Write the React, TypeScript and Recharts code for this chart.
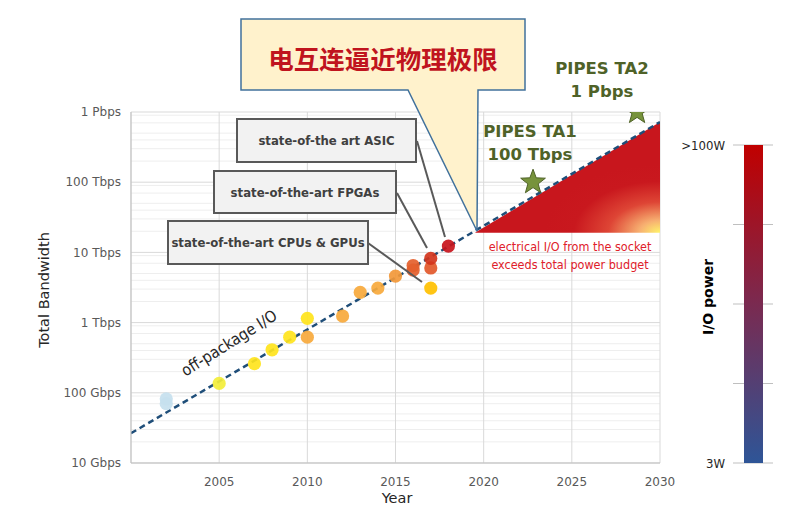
import {
  ComposedChart, BarChart, Bar, Line, Area, Scatter, XAxis, YAxis,
  CartesianGrid,
} from 'recharts';

// axis ticks
const yearTicks = [2005, 2010, 2015, 2020, 2025, 2030];
const bwTicks = [1e10, 1e11, 1e12, 1e13, 1e14, 1e15];
const bwTickLabels = ['10 Gbps', '100 Gbps', '1 Tbps', '10 Tbps', '100 Tbps', '1 Pbps'];

// measured chips
const chipYears = [2002, 2002, 2005, 2007, 2008, 2009, 2010, 2010, 2012, 2013, 2014, 2015, 2016, 2016, 2017, 2017, 2017, 2018];
const chipBw = [7.0e10, 8.2e10, 1.36e11, 2.6e11, 4.1e11, 6.2e11, 1.15e12, 6.2e11, 1.24e12, 2.7e12, 3.1e12, 4.6e12, 6.5e12, 5.6e12, 3.1e12, 6.0e12, 8.2e12, 1.23e13];
const chipGen = [0, 0, 1, 2, 2, 2, 2, 3, 3, 3, 3, 4, 5, 5, 6, 7, 8, 9];

// off-package I/O trend and power-wall region
const trendYears = [2000, 2030];
const trendBw = [2.65e10, 7.2e14];
const wallYears = [2019.5, 2030];
const wallLow = [1.9e13, 1.9e13];
const wallHigh = [1.9e13, 7.2e14];

// PIPES targets
const targetYears = [2022.8, 2028.7];
const targetBw = [1e14, 1e15];

// I/O power colour scale
const powerTicks = [0, 1, 2, 3, 4];
const powerLabels = ['3W', '', '', '', '>100W'];
const powerBar = [4];

const DOT_COLORS = ['#C5DFEE', '#F3EE3A', '#FFE41C', '#F7A93C', '#F29838', '#E4602C', '#FFC000', '#E2582A', '#D2341C', '#C8141C'];

const minorLines: number[] = [];
for (let k = 10; k < 15; k++) {
  for (let m = 2; m <= 9; m++) minorLines.push(m * Math.pow(10, k));
}

const chipData = chipYears.map((year, i) => ({ year, bw: chipBw[i], gen: chipGen[i] }));
const targetData = targetYears.map((year, i) => ({ year, bw: targetBw[i] }));
const lineData: any[] = [
  { year: trendYears[0], trend: trendBw[0] },
  { year: wallYears[0], wall: [wallLow[0], wallHigh[0]] },
  { year: wallYears[1], trend: trendBw[1], wall: [wallLow[1], wallHigh[1]] },
];
const powerData = powerBar.map((v) => ({ name: 'power', v }));

const FONT = '"DejaVu Sans", Verdana, sans-serif';
const COND = '"DejaVu Sans Condensed", "DejaVu Sans", sans-serif';

function Star(props: any) {
  const { cx, cy } = props;
  const pts: string[] = [];
  for (let i = 0; i < 10; i++) {
    const r = i % 2 === 0 ? 13 : 5.4;
    const a = -Math.PI / 2 + (i * Math.PI) / 5;
    pts.push(`${cx + r * Math.cos(a)},${cy + r * Math.sin(a)}`);
  }
  return <polygon points={pts.join(' ')} fill="#77933C" stroke="#4F6228" strokeWidth={1} />;
}

function Dot(props: any) {
  const { cx, cy, payload } = props;
  return <circle cx={cx} cy={cy} r={6.6} fill={DOT_COLORS[payload.gen]} fillOpacity={0.92} />;
}

const boxStyle: React.CSSProperties = {
  position: 'absolute',
  boxSizing: 'border-box',
  background: '#F2F2F2',
  border: '2px solid #595959',
  color: '#404040',
  fontFamily: COND,
  fontWeight: 'bold',
  fontSize: 13,
  display: 'flex',
  alignItems: 'center',
  justifyContent: 'center',
};

const greenStyle: React.CSSProperties = {
  position: 'absolute',
  color: '#4F6228',
  fontFamily: FONT,
  fontWeight: 'bold',
  fontSize: 16.5,
  textAlign: 'center',
  lineHeight: '23px',
  width: 140,
};

export default function App() {
  return (
    <div style={{ position: 'absolute', left: 0, top: 0, width: 800, height: 525, background: '#fff', overflow: 'hidden' }}>
      <ComposedChart
        width={800}
        height={525}
        data={lineData}
        margin={{ top: 112, right: 140, bottom: 32, left: 61 }}
      >
        <defs>
          <radialGradient id="hot" cx="1" cy="1" r="0.62" fx="1" fy="1">
            <stop offset="0%" stopColor="#FFF56A" />
            <stop offset="18%" stopColor="#F7B071" />
            <stop offset="45%" stopColor="#DE4535" />
            <stop offset="75%" stopColor="#C9181E" />
            <stop offset="100%" stopColor="#C8161D" />
          </radialGradient>
        </defs>
        <CartesianGrid vertical={false} horizontalValues={minorLines} stroke="#EEEEEE" />
        <CartesianGrid stroke="#D9D9D9" />
        <XAxis
          dataKey="year"
          type="number"
          domain={[2000, 2030]}
          ticks={yearTicks}
          allowDataOverflow
          tickLine={false}
          tickMargin={8}
          height={30}
          axisLine={{ stroke: '#BFBFBF' }}
          tick={{ fill: '#595959', fontSize: 12, fontFamily: FONT }}
        />
        <YAxis
          scale="log"
          domain={[1e10, 1e15]}
          ticks={bwTicks}
          allowDataOverflow
          tickLine={false}
          width={70}
          tickMargin={4}
          axisLine={{ stroke: '#BFBFBF' }}
          tickFormatter={(v: number) => bwTickLabels[bwTicks.indexOf(v)] ?? ''}
          tick={{ fill: '#595959', fontSize: 12, fontFamily: FONT }}
        />
        <Area
          dataKey="wall"
          type="linear"
          fill="url(#hot)"
          fillOpacity={1}
          stroke="none"
          isAnimationActive={false}
        />
        <Scatter data={chipData} dataKey="bw" shape={<Dot />} isAnimationActive={false} />
        <Line
          dataKey="trend"
          type="linear"
          stroke="#1F4E79"
          strokeWidth={2.5}
          strokeDasharray="6 4"
          dot={false}
          connectNulls
          isAnimationActive={false}
        />
        <Scatter data={targetData} dataKey="bw" shape={<Star />} isAnimationActive={false} />
      </ComposedChart>

      {/* axis titles */}
      <div style={{ position: 'absolute', left: 378, top: 490, width: 38, textAlign: 'center', fontFamily: FONT, fontSize: 14.5, color: '#262626' }}>Year</div>
      <div style={{ position: 'absolute', left: 44, top: 290, transform: 'translate(-50%, -50%) rotate(-90deg)', whiteSpace: 'nowrap', fontFamily: FONT, fontSize: 14.5, color: '#262626' }}>Total Bandwidth</div>

      {/* callout and connectors */}
      <svg width={800} height={525} style={{ position: 'absolute', left: 0, top: 0, pointerEvents: 'none' }}>
        <polygon
          points="241,19 525,19 525,90 478,90 477,231 408,90 241,90"
          fill="#FFF2CC"
          stroke="#41719C"
          strokeWidth={1.5}
        />
        <line x1={417} y1={141} x2={445} y2={237} stroke="#595959" strokeWidth={2} />
        <line x1={397} y1={193} x2={427} y2={248} stroke="#595959" strokeWidth={2} />
        <line x1={368} y1={243} x2={422} y2={282} stroke="#595959" strokeWidth={2} />
      </svg>
      <div style={{ position: 'absolute', left: 241, top: 38, width: 284, textAlign: 'center', fontFamily: '"Noto Sans CJK SC", sans-serif', fontWeight: 'bold', fontSize: 25.5, color: '#C0141E', lineHeight: '40px' }}>
        电互连逼近物理极限
      </div>

      <div style={{ ...boxStyle, left: 236, top: 118, width: 181, height: 45 }}>state-of-the art ASIC</div>
      <div style={{ ...boxStyle, left: 213, top: 170, width: 184, height: 44 }}>state-of-the-art FPGAs</div>
      <div style={{ ...boxStyle, left: 167, top: 220, width: 202, height: 45 }}>state-of-the-art CPUs &amp; GPUs</div>

      <div style={{ position: 'absolute', left: 229, top: 343, transform: 'translate(-50%, -50%) rotate(-32deg)', whiteSpace: 'nowrap', fontFamily: COND, fontSize: 16, color: '#262626' }}>off-package I/O</div>

      <div style={{ ...greenStyle, left: 460, top: 120 }}>PIPES TA1<br />100 Tbps</div>
      <div style={{ ...greenStyle, left: 532, top: 57 }}>PIPES TA2<br />1 Pbps</div>

      <div style={{ position: 'absolute', left: 480, top: 238, width: 180, textAlign: 'center', fontFamily: COND, fontSize: 12.5, lineHeight: '18px', color: '#E0202A' }}>
        electrical I/O from the socket<br />exceeds total power budget
      </div>

      {/* I/O power colour bar */}
      <div style={{ position: 'absolute', left: 640, top: 120 }}>
        <BarChart
          width={160}
          height={360}
          data={powerData}
          margin={{ top: 25, right: 27, bottom: 17, left: 33 }}
        >
          <defs>
            <linearGradient id="pw" x1="0" y1="0" x2="0" y2="1">
              <stop offset="0%" stopColor="#C00000" />
              <stop offset="50%" stopColor="#7A2A50" />
              <stop offset="100%" stopColor="#2E5597" />
            </linearGradient>
          </defs>
          <CartesianGrid vertical={false} stroke="#BFBFBF" />
          <XAxis dataKey="name" hide />
          <YAxis
            domain={[0, 4]}
            ticks={powerTicks}
            width={60}
            axisLine={false}
            tickLine={false}
            tickMargin={2}
            tickFormatter={(v: number) => powerLabels[v]}
            tick={{ fill: '#262626', fontSize: 13, fontFamily: COND }}
          />
          <Bar dataKey="v" fill="url(#pw)" barSize={19} isAnimationActive={false} />
        </BarChart>
      </div>
      <div style={{ position: 'absolute', left: 708, top: 297, transform: 'translate(-50%, -50%) rotate(-90deg)', whiteSpace: 'nowrap', fontFamily: FONT, fontWeight: 'bold', fontSize: 14, color: '#000' }}>I/O power</div>
    </div>
  );
}
